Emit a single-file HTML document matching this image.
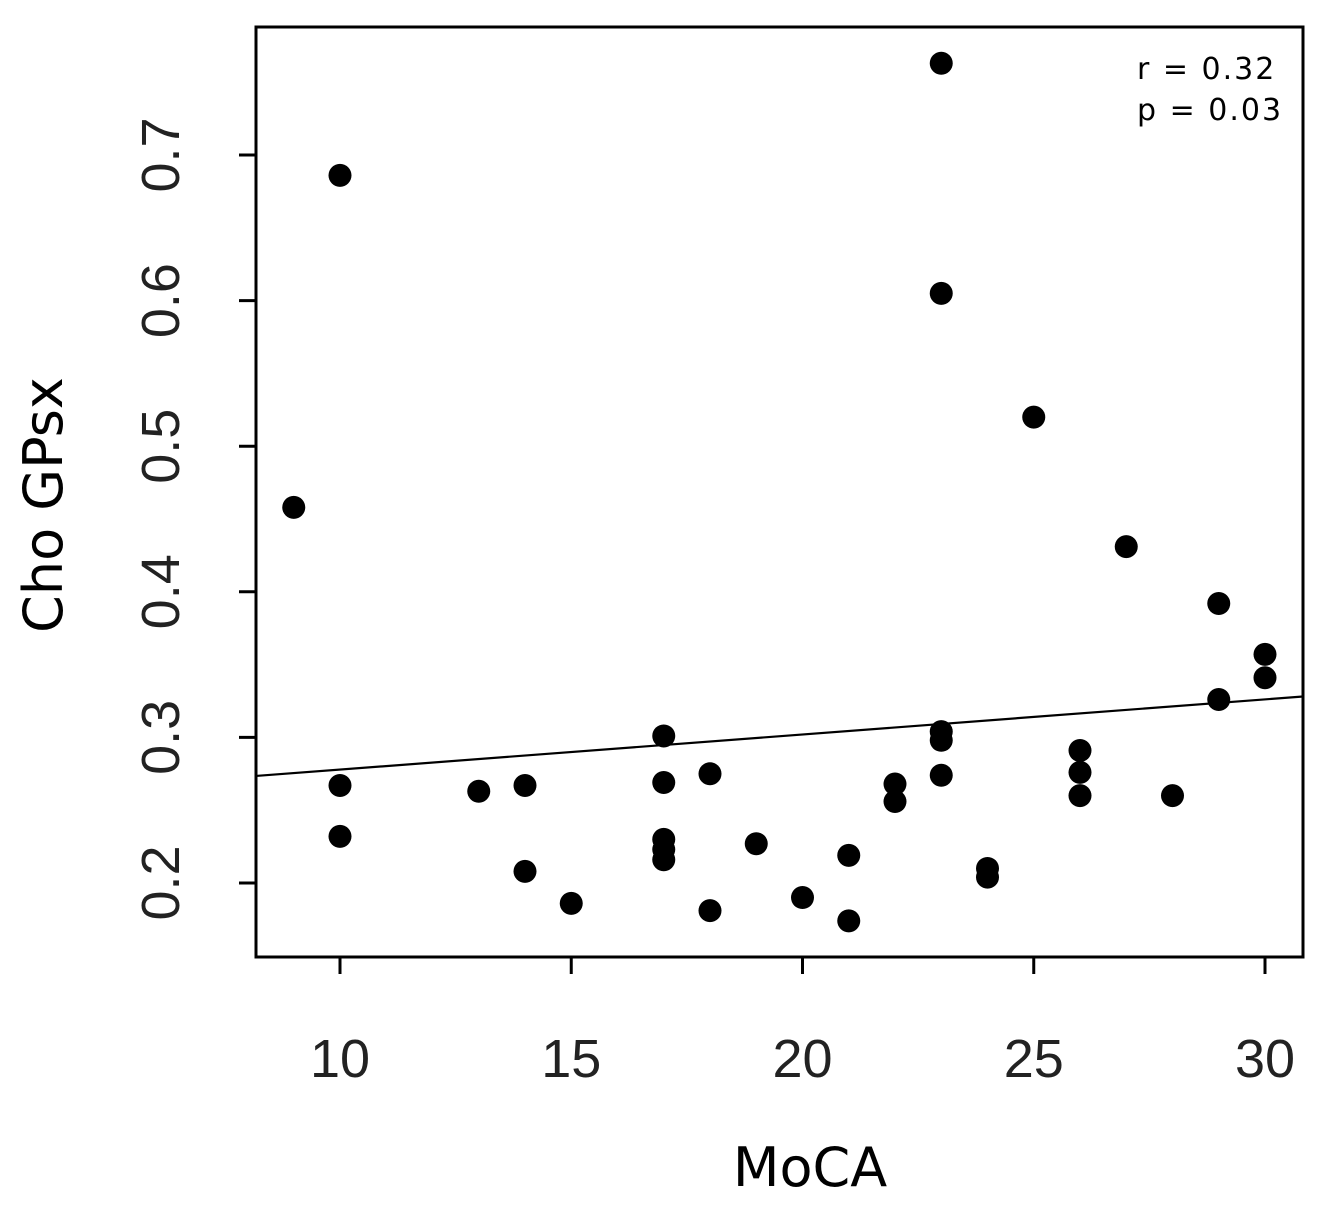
<!DOCTYPE html>
<html><head><meta charset="utf-8"><style>
html,body{margin:0;padding:0;background:#fff;}
svg{display:block;}
</style></head><body>
<svg id="chart" width="1322" height="1206" xmlns="http://www.w3.org/2000/svg"></svg>
<script>
const xTicks=[10,15,20,25,30];
const yTicks=[0.2,0.3,0.4,0.5,0.6,0.7];
const yTickLabels=["0.2","0.3","0.4","0.5","0.6","0.7"];
const mocaValues=[9,10,10,10,13,14,14,15,17,17,17,17,17,18,18,19,20,21,21,22,22,23,23,23,23,23,24,24,25,26,26,26,27,28,29,29,30,30];
const choValues=[0.458,0.686,0.267,0.232,0.263,0.267,0.208,0.186,0.301,0.269,0.230,0.223,0.216,0.275,0.181,0.227,0.190,0.219,0.174,0.268,0.256,0.763,0.605,0.304,0.298,0.274,0.210,0.204,0.520,0.291,0.276,0.260,0.431,0.260,0.392,0.326,0.357,0.341];
const fitIntercept=0.2538;
const fitSlope=0.00241;
const stats=["r = 0.32","p = 0.03"];

const svg=document.getElementById('chart');
const NS='http://www.w3.org/2000/svg';
const L=256,R=1303,T=27,B=957;
const xs=v=>340+(v-10)*46.25;
const ys=v=>883-(v-0.2)*1456;
const xInv=p=>10+(p-340)/46.25;
function mk(tag,attrs){const e=document.createElementNS(NS,tag);for(const k in attrs)e.setAttribute(k,attrs[k]);svg.appendChild(e);return e;}

const box=mk('rect',{x:L,y:T,width:R-L,height:B-T,fill:'none',stroke:'#000','stroke-width':3});



xTicks.forEach(t=>{
  const l=mk('line',{x1:xs(t),x2:xs(t),y1:B,y2:B+17,stroke:'#000','stroke-width':3});
  
  
  const tx=mk('text',{x:xs(t),y:1077,'text-anchor':'middle','font-family':'Liberation Sans, sans-serif','font-size':54,fill:'#222'});
  tx.textContent=t;
  
  
});
yTicks.forEach((t,i)=>{
  const l=mk('line',{x1:L-17,x2:L,y1:ys(t),y2:ys(t),stroke:'#000','stroke-width':3});
  
  
  const tx=mk('text',{x:0,y:0,transform:`translate(179,${ys(t)}) rotate(-90)`,'text-anchor':'middle','font-family':'Liberation Sans, sans-serif','font-size':54,fill:'#222'});
  tx.textContent=yTickLabels[i];
  
  
});

const xt=mk('text',{x:810,y:1186,'text-anchor':'middle','font-family':'DejaVu Sans, sans-serif','font-size':54,fill:'#000'});
xt.textContent='MoCA';


const yt=mk('text',{x:0,y:0,transform:'translate(62,505) rotate(-90)','text-anchor':'middle','font-family':'DejaVu Sans, sans-serif','font-size':54,fill:'#000'});
yt.textContent='Cho GPsx';



const x0=xInv(L),x1=xInv(R);
const fit=mk('line',{x1:L,y1:ys(fitIntercept+fitSlope*x0),x2:R,y2:ys(fitIntercept+fitSlope*x1),stroke:'#000','stroke-width':2.2});



mocaValues.forEach((m,i)=>{
  const c=mk('circle',{cx:xs(m),cy:ys(choValues[i]),r:11.5,fill:'#000'});
  
  
});

stats.forEach((s,i)=>{
  const tx=mk('text',{x:1137,y:79+i*41,'font-family':'DejaVu Sans, sans-serif','font-size':30,'letter-spacing':2,fill:'#000'});
  tx.textContent=s;
  
  
});
</script>
</body></html>
